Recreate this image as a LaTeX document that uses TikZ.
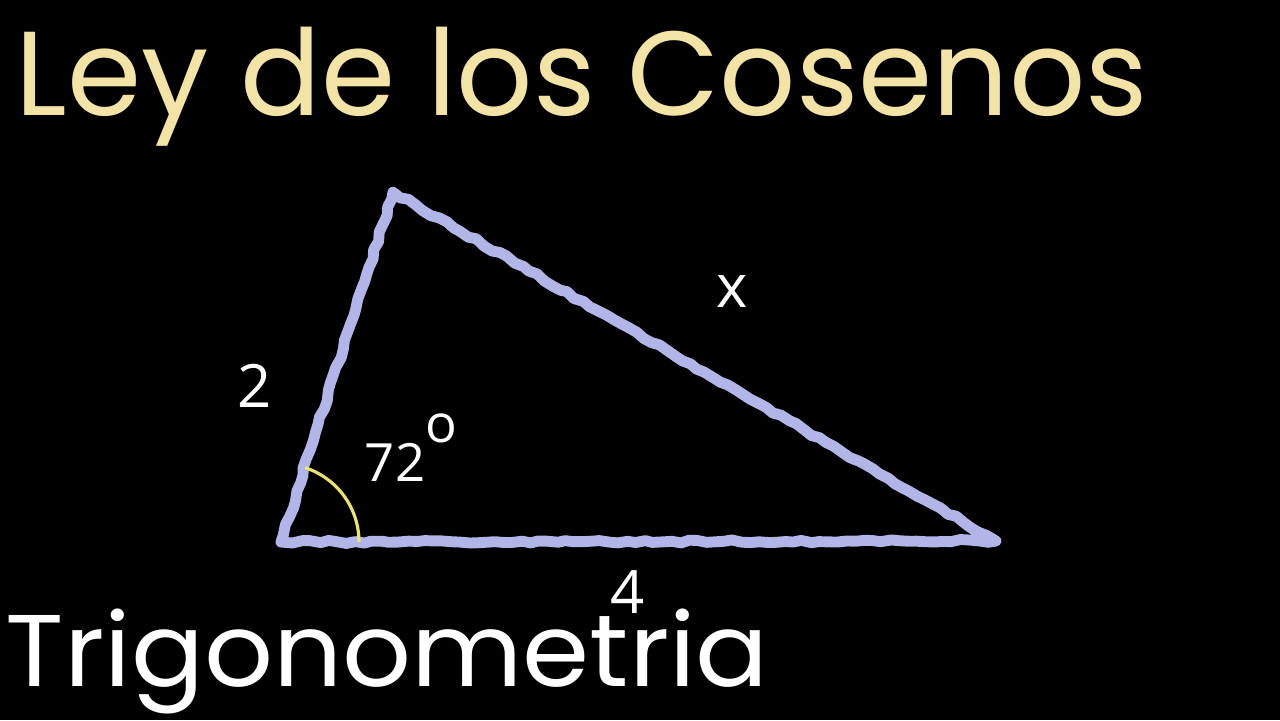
\documentclass[tikz,border=0pt]{standalone}
\usepackage{fontspec}
\newfontfamily\chalkfont{Poppins}
\newfontfamily\markfont{Open Sans}
\usepackage{xcolor}
\definecolor{Board Black}{HTML}{000000}
\definecolor{Chalk Lilac}{HTML}{B2B5E8}
\definecolor{Chalk Cream}{HTML}{F4E3A6}
\definecolor{Chalk Yellow}{HTML}{ECE272}
\colorlet{cBoard}{Board Black}
\colorlet{cSide}{Chalk Lilac}
\colorlet{cTitle}{Chalk Cream}
\colorlet{cArc}{Chalk Yellow}
\usetikzlibrary{calc, decorations.pathmorphing, positioning}
\tikzset{
	x = .1mm,
	y = -.1mm,
	chalkside/.style={
		draw=cSide,
		line width=3.1pt,
		line join=round,
		line cap=round,
		decorate,
		decoration={random steps, segment length=2.5pt, amplitude=.45pt}
	},
	anglearc/.style={
		draw=cArc,
		line width=.9pt
	},
	sidelabel/.style={
		text=white,
		font=\markfont\fontsize{17}{17}\selectfont,
		inner sep=0pt
	},
	headline/.style={
		font=\chalkfont\fontsize{34}{34}\selectfont,
		inner sep=0pt
	}
}
\begin{document}
\begin{tikzpicture}
	\fill[cBoard] (0,0) rectangle (1280,720);
	\useasboundingbox (0,0) rectangle (1280,720);

	\coordinate (A) at (281,542);
	\coordinate (B) at (393,192);
	\coordinate (C) at (996,541);

	\draw[chalkside] (A) -- (B) -- (C) -- cycle;
	\draw[anglearc] ($(A)!7.8mm!(C)$) arc[start angle=0, end angle=72, radius=7.8mm];

	\node[headline, text=cTitle, anchor=base west] (title) at (15,115) {Ley de los Cosenos};
	\node[headline, text=white, anchor=base west, font=\chalkfont\fontsize{29}{29}\selectfont] (subject) at (5,686) {\scalebox{1.06}[1]{Trigonometria}};

	\node[sidelabel] (side2) at (255,386) {2};
	\node[sidelabel] (sidex) at (732,292) {x};
	\node[sidelabel] (side4) at (628,592) {4};
	\node[sidelabel, font=\markfont\fontsize{15}{15}\selectfont] (angle) at (395,462) {72};
	\node[sidelabel, font=\markfont\fontsize{15}{15}\selectfont] (degree) at (441,428) {o};
\end{tikzpicture}
\end{document}
